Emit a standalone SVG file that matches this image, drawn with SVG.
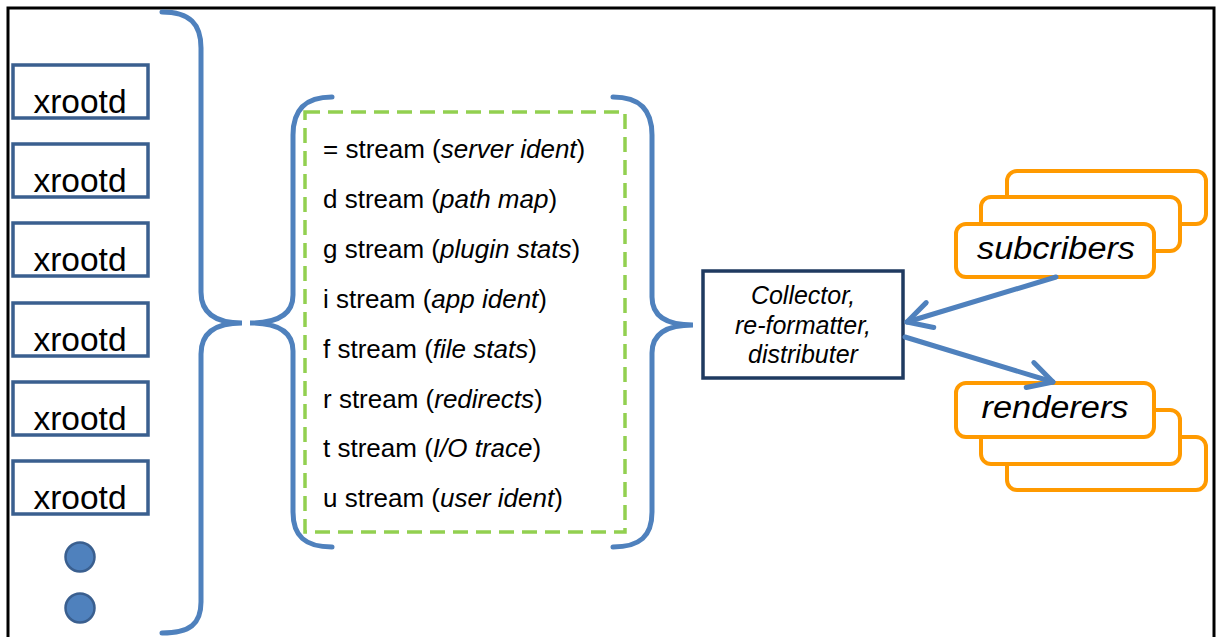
<svg xmlns="http://www.w3.org/2000/svg" width="1216" height="637" viewBox="0 0 1216 637">
<style>
.frame{fill:#fff;stroke:#000;stroke-width:3}
.xbox{fill:#fff;stroke:#3A5F8F;stroke-width:3.5}
.xt{font-family:"Liberation Sans",Arial,sans-serif;font-size:34px;fill:#000;text-anchor:middle}
.dot{fill:#4F81BD;stroke:#3A5F8F;stroke-width:2.5}
.brace{fill:none;stroke:#4F81BD;stroke-width:5;stroke-linecap:round}
.dash{fill:none;stroke:#92D050;stroke-width:3.5;stroke-dasharray:15 8}
.st{font-family:"Liberation Sans",Arial,sans-serif;font-size:26px;fill:#000}
.it{font-style:italic}
.coll{fill:#fff;stroke:#1F3A60;stroke-width:3.5}
.ct{font-family:"Liberation Sans",Arial,sans-serif;font-size:25px;font-style:italic;fill:#000;text-anchor:middle}
.ob{fill:#fff;stroke:#FF9A00;stroke-width:4}
.ot{font-family:"Liberation Sans",Arial,sans-serif;font-size:31px;font-style:italic;fill:#000;text-anchor:middle}
.conn{fill:none;stroke:#4F81BD;stroke-width:5;stroke-linecap:round}
</style>
<defs>
<marker id="chev" markerUnits="userSpaceOnUse" viewBox="-30 -20 36 40" refX="0" refY="0" markerWidth="36" markerHeight="40" orient="auto" overflow="visible">
<path d="M-24,-13 L0,0 L-24,13" fill="none" stroke="#4F81BD" stroke-width="5" stroke-linecap="round" stroke-linejoin="round"/>
</marker>
</defs>
<rect class="frame" x="8" y="8" width="1206" height="640"/>

<g id="xrootd1"><rect class="xbox" x="13" y="65" width="135" height="53"/><text class="xt" x="80" y="113" textLength="93" lengthAdjust="spacingAndGlyphs">xrootd</text></g>
<g id="xrootd2"><rect class="xbox" x="13" y="144" width="135" height="53"/><text class="xt" x="80" y="192" textLength="93" lengthAdjust="spacingAndGlyphs">xrootd</text></g>
<g id="xrootd3"><rect class="xbox" x="13" y="223" width="135" height="53"/><text class="xt" x="80" y="271" textLength="93" lengthAdjust="spacingAndGlyphs">xrootd</text></g>
<g id="xrootd4"><rect class="xbox" x="13" y="303" width="135" height="53"/><text class="xt" x="80" y="351" textLength="93" lengthAdjust="spacingAndGlyphs">xrootd</text></g>
<g id="xrootd5"><rect class="xbox" x="13" y="382" width="135" height="53"/><text class="xt" x="80" y="430" textLength="93" lengthAdjust="spacingAndGlyphs">xrootd</text></g>
<g id="xrootd6"><rect class="xbox" x="13" y="461" width="135" height="53"/><text class="xt" x="80" y="509" textLength="93" lengthAdjust="spacingAndGlyphs">xrootd</text></g>
<g id="dots"><circle class="dot" cx="80" cy="557" r="14.5"/><circle class="dot" cx="80" cy="608" r="14.5"/></g>

<g id="brace-left">
<path class="brace" d="M162,12 C190,12 201,24 201,48 L201,292 C201,314 216,323 242,323 C216,323 201,332 201,354 L201,602 C201,624 190,633 162,633"/>
</g>

<g id="streams">
<path class="brace" d="M332,97 C305,97 293,110 293,135 L293,295 C293,315 276,323 250,323 C276,323 293,331 293,351 L293,512 C293,536 305,547 332,547"/>
<path class="brace" d="M613,97 C640,97 652,110 652,135 L652,297 C652,317 668,325 693,325 C668,325 652,333 652,353 L652,512 C652,536 640,547 613,547"/>
<rect class="dash" x="305" y="112" width="320" height="420"/>
<text class="st" x="323" y="158">= stream (<tspan class="it">server ident</tspan>)</text>
<text class="st" x="323" y="208">d stream (<tspan class="it">path map</tspan>)</text>
<text class="st" x="323" y="258">g stream (<tspan class="it">plugin stats</tspan>)</text>
<text class="st" x="323" y="308">i stream (<tspan class="it">app ident</tspan>)</text>
<text class="st" x="323" y="358">f stream (<tspan class="it">file stats</tspan>)</text>
<text class="st" x="323" y="408">r stream (<tspan class="it">redirects</tspan>)</text>
<text class="st" x="323" y="457">t stream (<tspan class="it">I/O trace</tspan>)</text>
<text class="st" x="323" y="507">u stream (<tspan class="it">user ident</tspan>)</text>
</g>

<g id="collector">
<rect class="coll" x="703" y="271" width="200" height="107"/>
<text class="ct" x="803" y="304">Collector,</text>
<text class="ct" x="803" y="334">re-formatter,</text>
<text class="ct" x="803" y="363">distributer</text>
</g>

<g id="subscribers">
<rect class="ob" x="1007" y="171" width="199" height="53" rx="10"/>
<rect class="ob" x="981" y="197" width="199" height="54" rx="10"/>
<rect class="ob" x="956" y="224" width="198" height="53" rx="10"/>
<text class="ot" x="1056" y="259" textLength="158" lengthAdjust="spacingAndGlyphs">subcribers</text>
</g>

<g id="renderers">
<rect class="ob" x="1007" y="437" width="199" height="53" rx="10"/>
<rect class="ob" x="981" y="410" width="199" height="54" rx="10"/>
<rect class="ob" x="956" y="383" width="198" height="54" rx="10"/>
<text class="ot" x="1055" y="418" textLength="147" lengthAdjust="spacingAndGlyphs">renderers</text>
</g>

<g id="connectors">
<path class="conn" d="M1056,277 L907,322" marker-end="url(#chev)"/>
<path class="conn" d="M905,337 L1053,382" marker-end="url(#chev)"/>
</g>
</svg>
